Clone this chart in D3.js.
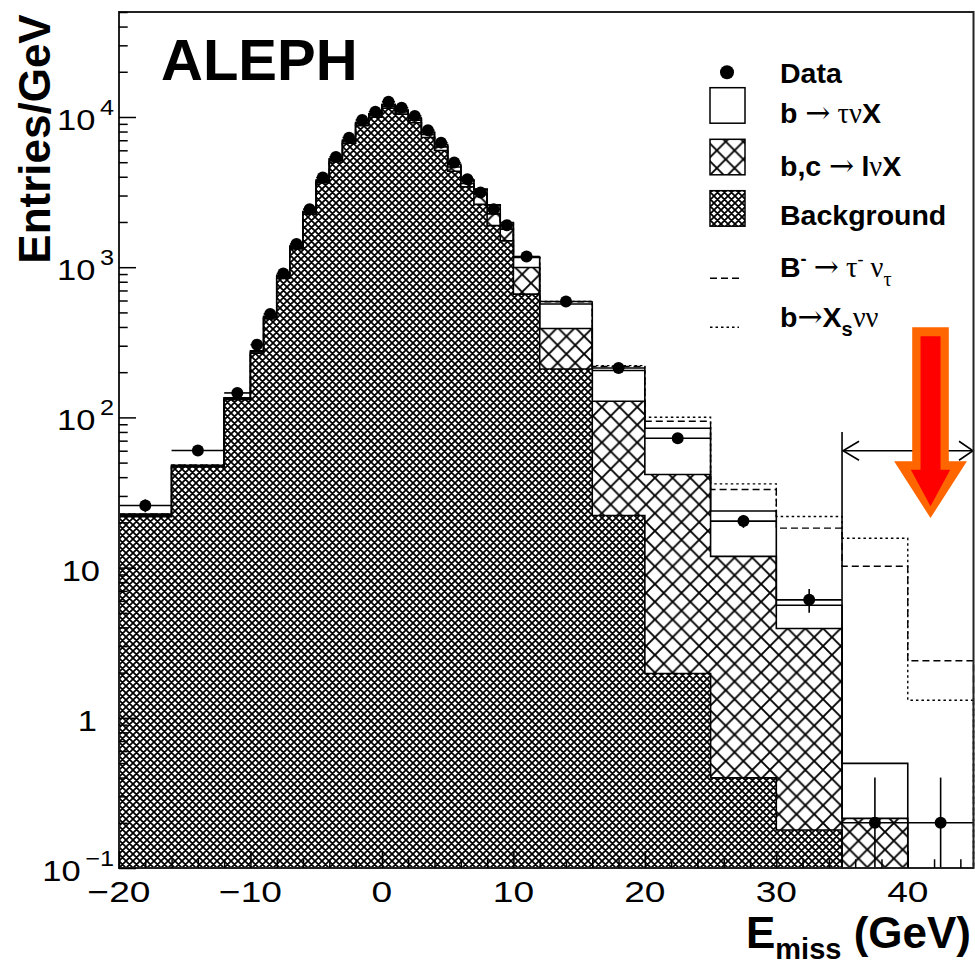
<!DOCTYPE html>
<html>
<head>
<meta charset="utf-8">
<script src="https://cdn.jsdelivr.net/npm/d3@7"></script>
<style>
  body { margin: 0; background: #fff; }
  svg { display: block; }
</style>
</head>
<body>
<script>
// Missing-energy spectrum, ALEPH. Bin edges in GeV, contents in Entries/GeV.
const binEdges = [-20, -16, -12, -10, -9, -8, -7, -6, -5, -4, -3, -2, -1, 0, 1, 2, 3, 4, 5, 6, 7, 8, 9, 10, 12, 16, 20, 25, 30, 35, 40, 45];

const dataVals = [25.9, 60.2, 145.5, 305, 488, 908, 1425, 2433, 3948, 5420, 7285, 9545, 10840, 12640, 11530,
                  10160, 8160, 6750, 4970, 3855, 3140, 2433, 1905, 1178, 591, 213, 72.6, 20.4, 6.1, 0.2, 0.2];

// Monte Carlo components (stacked: background, then b,c -> l nu X, then b -> tau nu X)
const background = [21.8, 46.8, 131, 268, 452, 845, 1325, 2255, 3640, 5020, 6680, 8760, 9980, 11450, 10450,
                    9150, 7300, 5980, 4350, 3424, 2619, 1890, 1498, 662, 210, 22.2, 1.97, 0.398, 0.179, 0, 0];
const lnuX = [0.4, 0.6, 2, 5, 9, 18, 28, 50, 85, 120, 170, 240, 290, 360, 370,
              380, 360, 340, 300, 180, 448, 375, 294, 333, 181, 105.8, 39.7, 11.47, 3.75, 0.214, 0];
const taunuX = [0.5, 0.6, 2, 5, 9, 17, 27, 45, 75, 110, 150, 200, 230, 290, 280,
                270, 240, 230, 200, 190, 237, 334, 190, 165, 178, 77, 43, 11.93, 1.68, 0.283, 0];

// Signal hypotheses drawn on top of the SM total
const sigTauNu  = [0, 0, 0, 0, 0, 0, 0, 0, 0, 0, 0, 0, 0, 0, 0,
                   0, 0, 0, 0, 0, 0, 0, 0, 12, 19, 13, 9.5, 9.3, 12.7, 9.7, 2.4];
const sigXsNuNu = [0, 0, 0, 0, 0, 0, 0, 0, 0, 0, 0, 0, 0, 0, 0,
                   0, 0, 0, 0, 0, 0, 0, 0, 14, 23, 16, 15.5, 12.3, 16.3, 15.2, 1.31];

const xTicks = [-20, -10, 0, 10, 20, 30, 40];
const yTicks = [0.1, 1, 10, 100, 1000, 10000];
const yTickLabels = [["10", "\u22121"], ["1", null], ["10", null], ["10", "2"], ["10", "3"], ["10", "4"]];

const cutEnergy = 35;      // signal region starts here
const cutLevel = 60;       // height of the double arrow (Entries/GeV)
const cutTop = 80;         // top of the cut line
const arrowTip = [41.73, 21.4];

const W = 975, H = 967;
const SANS = "'Liberation Sans', Arial, Helvetica, sans-serif";
const SERIF = "'Liberation Serif', 'DejaVu Serif', 'Times New Roman', serif";
const ARROWFONT = "'DejaVu Serif', 'Liberation Serif', serif";

const svg = d3.select("body").append("svg").attr("width", W).attr("height", H);

const x = d3.scaleLinear().domain([-20, 45]).range([119, 973.5]);
const y = d3.scaleLog().domain([0.1, 5e4]).range([868, 12]);
const yFloor = 0.1;
const yc = v => y(Math.max(v, yFloor));

// ---------- hatch patterns ----------
const defs = svg.append("defs");
function hatch(id, s, sw, bg) {
  const p = defs.append("pattern").attr("id", id).attr("patternUnits", "userSpaceOnUse")
    .attr("width", s).attr("height", s);
  if (bg) p.append("rect").attr("width", s).attr("height", s).attr("fill", bg);
  const e = 1.5;
  p.append("path")
    .attr("d", `M${-e},${e} L${e},${-e} M0,${s} L${s},0 M${s - e},${s + e} L${s + e},${s - e}` +
               ` M${-e},${s - e} L${e},${s + e} M0,0 L${s},${s} M${s - e},${-e} L${s + e},${e}`)
    .attr("stroke", "#000").attr("stroke-width", sw).attr("fill", "none");
}
hatch("fineHatch", 7, 1.75, "#fff");
hatch("coarseHatch", 17.7, 1.9, null);

// ---------- stacked histograms ----------
const cumBg = background.slice();
const cumLnu = background.map((v, i) => v + lnuX[i]);
const cumTot = cumLnu.map((v, i) => v + taunuX[i]);
const withTau = cumTot.map((v, i) => v + sigTauNu[i]);
const withXs = cumTot.map((v, i) => v + sigXsNuNu[i]);

const stepPts = vals => binEdges.map((e, i) => [e, vals[Math.min(i, vals.length - 1)]]);
const area = d3.area().curve(d3.curveStepAfter)
  .x(d => x(d[0])).y0(y(yFloor)).y1(d => yc(d[1]));
const outline = d3.line().curve(d3.curveStepAfter)
  .x(d => x(d[0])).y(d => yc(d[1]));
const outlinePts = vals => [[binEdges[0], 0], ...stepPts(vals), [binEdges[binEdges.length - 1], 0]];

const hist = svg.append("g");
[[cumTot, "#fff"], [cumLnu, "url(#coarseHatch)"], [cumBg, "url(#fineHatch)"]].forEach(([vals, fill]) => {
  hist.append("path").attr("d", area(stepPts(vals))).attr("fill", fill).attr("stroke", "none");
  hist.append("path").attr("d", outline(outlinePts(vals)))
    .attr("fill", "none").attr("stroke", "#000").attr("stroke-width", 1.6);
});

hist.append("path").attr("d", outline(outlinePts(withTau)))
  .attr("fill", "none").attr("stroke", "#000").attr("stroke-width", 1.4).attr("stroke-dasharray", "7,4");
hist.append("path").attr("d", outline(outlinePts(withXs)))
  .attr("fill", "none").attr("stroke", "#000").attr("stroke-width", 1.4).attr("stroke-dasharray", "2.5,3");

// ---------- data points ----------
const pts = dataVals.map((v, i) => {
  const lo = binEdges[i], hi = binEdges[i + 1], w = hi - lo;
  const err = Math.sqrt(v * w) / w;
  return { lo, hi, c: (lo + hi) / 2, v, up: v + err, dn: v - err };
});
const dg = svg.append("g").attr("stroke", "#000").attr("stroke-width", 1.6);
dg.selectAll("line.h").data(pts).join("line").attr("class", "h")
  .attr("x1", d => x(d.lo)).attr("x2", d => x(d.hi)).attr("y1", d => y(d.v)).attr("y2", d => y(d.v));
dg.selectAll("line.v").data(pts).join("line").attr("class", "v")
  .attr("x1", d => x(d.c)).attr("x2", d => x(d.c)).attr("y1", d => y(d.up)).attr("y2", d => yc(d.dn));
svg.append("g").selectAll("circle").data(pts).join("circle")
  .attr("cx", d => x(d.c)).attr("cy", d => y(d.v)).attr("r", 6).attr("fill", "#000");

// ---------- signal-region cut ----------
const cg = svg.append("g").attr("stroke", "#000").attr("stroke-width", 1.6).attr("fill", "none");
cg.append("line").attr("x1", x(cutEnergy)).attr("x2", x(cutEnergy)).attr("y1", y(cutTop)).attr("y2", y(yFloor));
const ay = y(cutLevel), axL = x(cutEnergy) + 1, axR = x(45) - 0.5;
cg.append("line").attr("x1", axL).attr("x2", axR).attr("y1", ay).attr("y2", ay);
cg.append("path").attr("d", `M${axL + 16},${ay - 9.5} L${axL},${ay} L${axL + 16},${ay + 9.5}`);
cg.append("path").attr("d", `M${axR - 14},${ay - 9.5} L${axR},${ay} L${axR - 14},${ay + 9.5}`);

// big highlight arrow pointing at the signal region
const tx = x(arrowTip[0]), ty = y(arrowTip[1]);
const arrowPoly = (tipY, halfShaft, topY, baseY, halfHead) => [
  [tx - halfShaft, topY], [tx + halfShaft, topY], [tx + halfShaft, baseY], [tx + halfHead, baseY],
  [tx, tipY], [tx - halfHead, baseY], [tx - halfShaft, baseY]
].map(p => p.join(",")).join(" ");
svg.append("polygon").attr("points", arrowPoly(ty, 18.3, ty - 190.6, ty - 56.6, 36.4)).attr("fill", "#ff6600");
svg.append("polygon").attr("points", arrowPoly(ty - 11.6, 10, ty - 181.6, ty - 48.3, 19.7)).attr("fill", "#ff0000");

// ---------- frame & axes ----------
svg.append("rect").attr("x", 119).attr("y", 12).attr("width", 854.5).attr("height", 856)
  .attr("fill", "none").attr("stroke", "#222").attr("stroke-width", 2);

const yMinor = [];
for (let k = -1; k <= 4; k++) for (let m = 2; m <= 9; m++) { const v = m * Math.pow(10, k); if (v <= 5e4) yMinor.push(v); }
const xMinor = d3.range(-18, 45, 2).filter(v => v % 10 !== 0);

function styleAxis(g) { g.select(".domain").remove(); g.selectAll("line").attr("stroke", "#000").attr("stroke-width", 1.5); }
svg.append("g").attr("transform", "translate(119,0)")
  .call(d3.axisLeft(y).tickValues(yTicks).tickSize(-17).tickFormat("")).call(styleAxis);
svg.append("g").attr("transform", "translate(119,0)")
  .call(d3.axisLeft(y).tickValues(yMinor).tickSize(-8.7).tickFormat("")).call(styleAxis);
svg.append("g").attr("transform", "translate(0,868)")
  .call(d3.axisBottom(x).tickValues(xTicks).tickSize(-17).tickFormat("")).call(styleAxis);
svg.append("g").attr("transform", "translate(0,868)")
  .call(d3.axisBottom(x).tickValues(xMinor).tickSize(-8.7).tickFormat("")).call(styleAxis);

// tick labels
svg.append("g").selectAll("text").data(xTicks).join("text")
  .attr("transform", d => `translate(${x(d)},902) scale(1.28,1)`)
  .attr("text-anchor", "middle").attr("font-family", SANS).attr("font-size", 29)
  .text(d => d < 0 ? "\u2212" + Math.abs(d) : String(d));

const yl = svg.append("g").attr("font-family", SANS);
yTicks.forEach((t, i) => {
  const [base, sup] = yTickLabels[i];
  const ax = sup ? 114 : (base === "1" ? 97 : 100);
  const txt = yl.append("text").attr("transform", `translate(${ax},${y(t) + 13}) scale(1.15,1)`)
    .attr("text-anchor", "end").attr("font-size", 30);
  txt.append("tspan").text(base);
  if (sup) txt.append("tspan").attr("font-size", 22).attr("dx", 4).attr("dy", -15.4).text(sup);
});

// axis titles
svg.append("text").attr("transform", "translate(50,139) rotate(-90)")
  .attr("text-anchor", "middle").attr("font-family", SANS).attr("font-weight", "bold").attr("font-size", 44)
  .text("Entries/GeV");
const xt = svg.append("text").attr("x", 971).attr("y", 948).attr("text-anchor", "end")
  .attr("font-family", SANS).attr("font-weight", "bold").attr("font-size", 44);
xt.append("tspan").text("E");
xt.append("tspan").attr("font-size", 29).attr("dy", 11).text("miss");
xt.append("tspan").attr("dy", -11).text(" (GeV)");

// experiment label
svg.append("text").attr("x", 161).attr("y", 80).attr("font-family", SANS).attr("font-weight", "bold")
  .attr("font-size", 58).text("ALEPH");

// ---------- legend ----------
const lg = svg.append("g");
const LX = 710, TX = 780, FS = 28.5;
lg.append("circle").attr("cx", 727).attr("cy", 72.3).attr("r", 7).attr("fill", "#000");
[[87.7, "#fff"], [139.3, "url(#coarseHatch)"], [190.7, "url(#fineHatch)"]].forEach(([top, fill]) => {
  lg.append("rect").attr("x", LX).attr("y", top).attr("width", 35).attr("height", 35.5).attr("fill", "#fff");
  lg.append("rect").attr("x", LX).attr("y", top).attr("width", 35).attr("height", 35.5)
    .attr("fill", fill).attr("stroke", "#000").attr("stroke-width", 1.5);
});
lg.append("line").attr("x1", LX).attr("x2", 739).attr("y1", 278.3).attr("y2", 278.3)
  .attr("stroke", "#000").attr("stroke-width", 1.4).attr("stroke-dasharray", "7,4");
lg.append("line").attr("x1", LX).attr("x2", 739).attr("y1", 327.3).attr("y2", 327.3)
  .attr("stroke", "#000").attr("stroke-width", 1.4).attr("stroke-dasharray", "2.5,3");

const legendRows = [
  [83.3, [["Data", "b"]]],
  [123.3, [["b ", "b"], ["\u2192", "a"], [" \u03c4\u03bd", "s"], ["X", "b"]]],
  [175.7, [["b,c ", "b"], ["\u2192", "a"], [" ", "s"], ["l", "b"], ["\u03bd", "s"], ["X", "b"]]],
  [225, [["Background", "b"]]],
  [276.7, [["B", "b"], ["-", "sup"], [" ", "s"], ["\u2192", "a"], [" \u03c4", "s"], ["-", "supS"], [" \u03bd", "s"], ["\u03c4", "sub"]]],
  [326.7, [["b", "b"], ["\u2192", "a"], ["X", "b"], ["s", "subB"], ["\u03bd\u03bd", "s"]]]
];
legendRows.forEach(([by, parts]) => {
  const t = lg.append("text").attr("x", TX).attr("y", by).attr("font-size", FS).attr("xml:space", "preserve");
  let shift = 0;
  parts.forEach(([str, kind]) => {
    const sp = t.append("tspan").text(str);
    let dy = 0;
    if (kind === "b") { sp.attr("font-family", SANS).attr("font-weight", "bold"); dy = -shift; shift = 0; }
    else if (kind === "s") { sp.attr("font-family", SERIF); dy = -shift; shift = 0; }
    else if (kind === "a") { sp.attr("font-family", ARROWFONT).attr("font-size", 30); dy = -shift; shift = 0; }
    else if (kind === "sup") { sp.attr("font-family", SANS).attr("font-weight", "bold").attr("font-size", 18); dy = -12 - shift; shift = -12; }
    else if (kind === "supS") { sp.attr("font-family", SERIF).attr("font-size", 18); dy = -12 - shift; shift = -12; }
    else if (kind === "sub") { sp.attr("font-family", SERIF).attr("font-size", 20); dy = 9 - shift; shift = 9; }
    else if (kind === "subB") { sp.attr("font-family", SANS).attr("font-weight", "bold").attr("font-size", 20); dy = 9 - shift; shift = 9; }
    if (dy) sp.attr("dy", dy);
  });
});
</script>
</body>
</html>
